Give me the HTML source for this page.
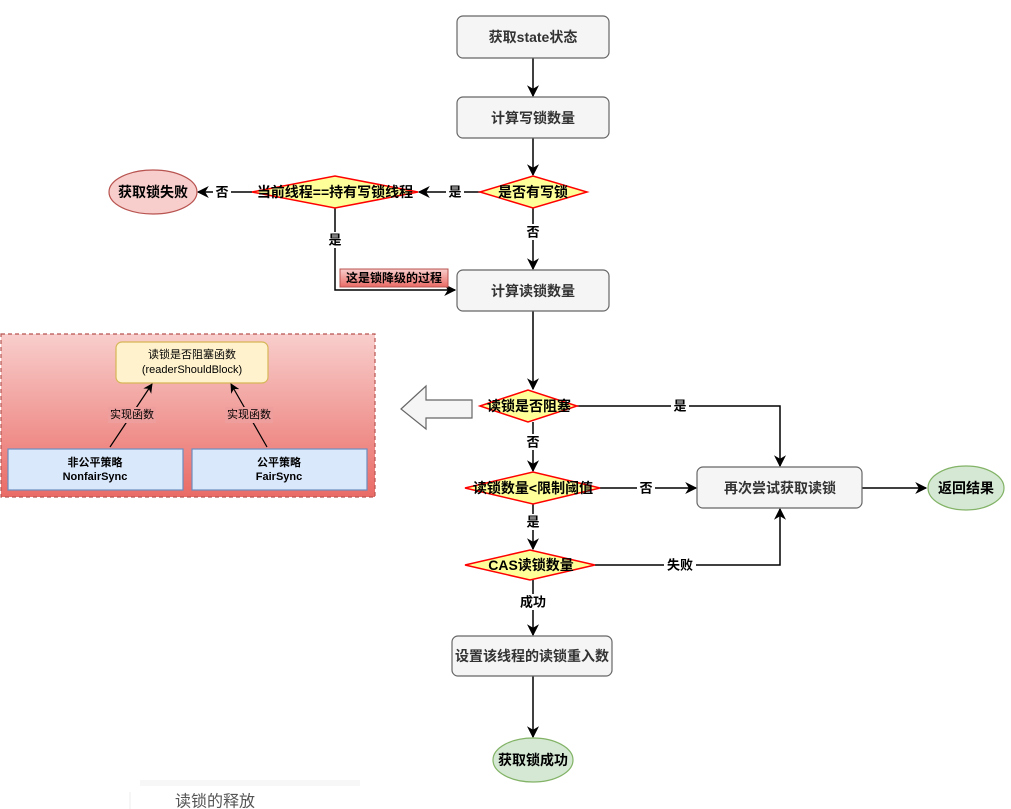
<!DOCTYPE html>
<html><head><meta charset="utf-8">
<style>
html,body{margin:0;padding:0;background:#fff;width:1011px;height:809px;overflow:hidden}
svg{display:block}
text{font-family:"Liberation Sans","Noto Sans CJK SC",sans-serif;font-weight:bold;text-anchor:middle;dominant-baseline:central}
</style></head><body>
<svg width="1011" height="809" viewBox="0 0 1011 809" xmlns="http://www.w3.org/2000/svg">
<defs>
<marker id="a" viewBox="0 0 10 10" refX="9" refY="5" markerWidth="8" markerHeight="8" orient="auto-start-reverse"><path d="M0,0 L10,5 L0,10 L3,5 z" fill="#000"/></marker>
<linearGradient id="rg" x1="0" y1="0" x2="0" y2="1"><stop offset="0" stop-color="#f8cecc"/><stop offset="1" stop-color="#ea6b66"/></linearGradient>
<linearGradient id="lg" x1="0" y1="0" x2="0" y2="1"><stop offset="0" stop-color="#f8cecc"/><stop offset="1" stop-color="#ea6b66"/></linearGradient>
</defs>
<g stroke="#000" stroke-width="1.5" fill="none">
<line x1="533" y1="58" x2="533" y2="96" marker-end="url(#a)"/>
<line x1="533" y1="138" x2="533" y2="175" marker-end="url(#a)"/>
<line x1="480" y1="192" x2="419" y2="192" marker-end="url(#a)"/>
<line x1="252" y1="192" x2="198" y2="192" marker-end="url(#a)"/>
<line x1="533" y1="208" x2="533" y2="269" marker-end="url(#a)"/>
<polyline points="335,207 335,290 455,290" marker-end="url(#a)"/>
<line x1="533" y1="311" x2="533" y2="389" marker-end="url(#a)"/>
<polyline points="577,406 780,406 780,466" marker-end="url(#a)"/>
<line x1="533" y1="422" x2="533" y2="471" marker-end="url(#a)"/>
<line x1="600" y1="488" x2="696" y2="488" marker-end="url(#a)"/>
<line x1="862" y1="488" x2="926" y2="488" marker-end="url(#a)"/>
<line x1="533" y1="504" x2="533" y2="549" marker-end="url(#a)"/>
<polyline points="595,565 780,565 780,509" marker-end="url(#a)"/>
<line x1="533" y1="580" x2="533" y2="635" marker-end="url(#a)"/>
<line x1="533" y1="676" x2="533" y2="737" marker-end="url(#a)"/>
</g>
<g fill="#f5f5f5" stroke="#666" stroke-width="1.2">
<rect x="457" y="16" width="152" height="42" rx="6"/>
<rect x="457" y="97" width="152" height="41" rx="6"/>
<rect x="457" y="270" width="152" height="41" rx="6"/>
<rect x="697" y="467" width="165" height="41" rx="6"/>
<rect x="452" y="636" width="160" height="40" rx="6"/>
</g>
<g font-size="14" fill="#333">
<text x="533" y="37">获取state状态</text>
<text x="533" y="118">计算写锁数量</text>
<text x="533" y="291">计算读锁数量</text>
<text x="780" y="488">再次尝试获取读锁</text>
<text x="532" y="656">设置该线程的读锁重入数</text>
</g>
<g fill="#ffff99" stroke="#ff0000" stroke-width="1.5">
<polygon points="480,192 533,176 587,192 533,208"/>
<polygon points="252,192 335,176 418,192 335,208"/>
<polygon points="480,406 528,390 577,406 528,422"/>
<polygon points="465,488 533,472 600,488 533,504"/>
<polygon points="465,565 530,550 595,565 530,580"/>
</g>
<g font-size="14" fill="#000">
<text x="533" y="192">是否有写锁</text>
<text x="335" y="192">当前线程==持有写锁线程</text>
<text x="529" y="406">读锁是否阻塞</text>
<text x="533" y="488">读锁数量&lt;限制阈值</text>
<text x="531" y="565">CAS读锁数量</text>
</g>
<ellipse cx="153" cy="192" rx="44" ry="22" fill="#f8cecc" stroke="#b85450" stroke-width="1.2"/>
<text x="153" y="192" font-size="14">获取锁失败</text>
<ellipse cx="966" cy="488" rx="38" ry="22" fill="#d5e8d4" stroke="#82b366" stroke-width="1.2"/>
<text x="966" y="488" font-size="14">返回结果</text>
<ellipse cx="533" cy="760" rx="40" ry="22" fill="#d5e8d4" stroke="#82b366" stroke-width="1.2"/>
<text x="533" y="760" font-size="14">获取锁成功</text>
<g font-size="13" fill="#000">
<rect x="213" y="184" width="18" height="16" fill="#fff"/><text x="222" y="192">否</text>
<rect x="446" y="184" width="18" height="16" fill="#fff"/><text x="455" y="192">是</text>
<rect x="524" y="224" width="18" height="16" fill="#fff"/><text x="533" y="232">否</text>
<rect x="326" y="232" width="18" height="16" fill="#fff"/><text x="335" y="240">是</text>
<rect x="671" y="398" width="18" height="16" fill="#fff"/><text x="680" y="406">是</text>
<rect x="524" y="434" width="18" height="16" fill="#fff"/><text x="533" y="442">否</text>
<rect x="637" y="480" width="18" height="16" fill="#fff"/><text x="646" y="488">否</text>
<rect x="524" y="514" width="18" height="16" fill="#fff"/><text x="533" y="522">是</text>
<rect x="664" y="557" width="32" height="16" fill="#fff"/><text x="680" y="565">失败</text>
<rect x="517" y="594" width="32" height="16" fill="#fff"/><text x="533" y="602">成功</text>
</g>
<rect x="340" y="269" width="108" height="18" fill="url(#lg)" stroke="#b85450" stroke-width="1"/>
<text x="394" y="278" font-size="12">这是锁降级的过程</text>
<rect x="1" y="334" width="374" height="163" fill="url(#rg)" stroke="#b85450" stroke-width="1.2" stroke-dasharray="4,3"/>
<rect x="116" y="342" width="152" height="41" rx="6" fill="#fff2cc" stroke="#d6b656" stroke-width="1.2"/>
<text x="192" y="355" font-size="11" fill="#000" style="font-weight:normal">读锁是否阻塞函数</text>
<text x="192" y="370" font-size="11" fill="#000" style="font-weight:normal">(readerShouldBlock)</text>
<rect x="8" y="449" width="175" height="41" fill="#dae8fc" stroke="#6c8ebf" stroke-width="1.2"/>
<rect x="192" y="449" width="175" height="41" fill="#dae8fc" stroke="#6c8ebf" stroke-width="1.2"/>
<text x="95" y="463" font-size="11" fill="#000">非公平策略</text>
<text x="95" y="477" font-size="11" fill="#000">NonfairSync</text>
<text x="279" y="463" font-size="11" fill="#000">公平策略</text>
<text x="279" y="477" font-size="11" fill="#000">FairSync</text>
<g stroke="#000" stroke-width="1.2">
<line x1="110" y1="447" x2="152" y2="384" marker-end="url(#a)"/>
<line x1="267" y1="447" x2="231" y2="384" marker-end="url(#a)"/>
</g>
<rect x="108" y="407" width="48" height="16" fill="#ee9e9c"/>
<text x="132" y="415" font-size="11" fill="#000" style="font-weight:normal">实现函数</text>
<rect x="225" y="407" width="48" height="16" fill="#ee9e9c"/>
<text x="249" y="415" font-size="11" fill="#000" style="font-weight:normal">实现函数</text>
<polygon points="472,400 472,418 426,418 426,429 401,409 426,386 426,400" fill="#f5f5f5" stroke="#666" stroke-width="1.2"/>
<line x1="130" y1="792" x2="130" y2="809" stroke="#eee"/>
<rect x="140" y="780" width="220" height="6" fill="#f7f7f7"/>
<text x="215" y="802" font-size="16" fill="#555" style="font-weight:normal">读锁的释放</text>
</svg>
</body></html>
